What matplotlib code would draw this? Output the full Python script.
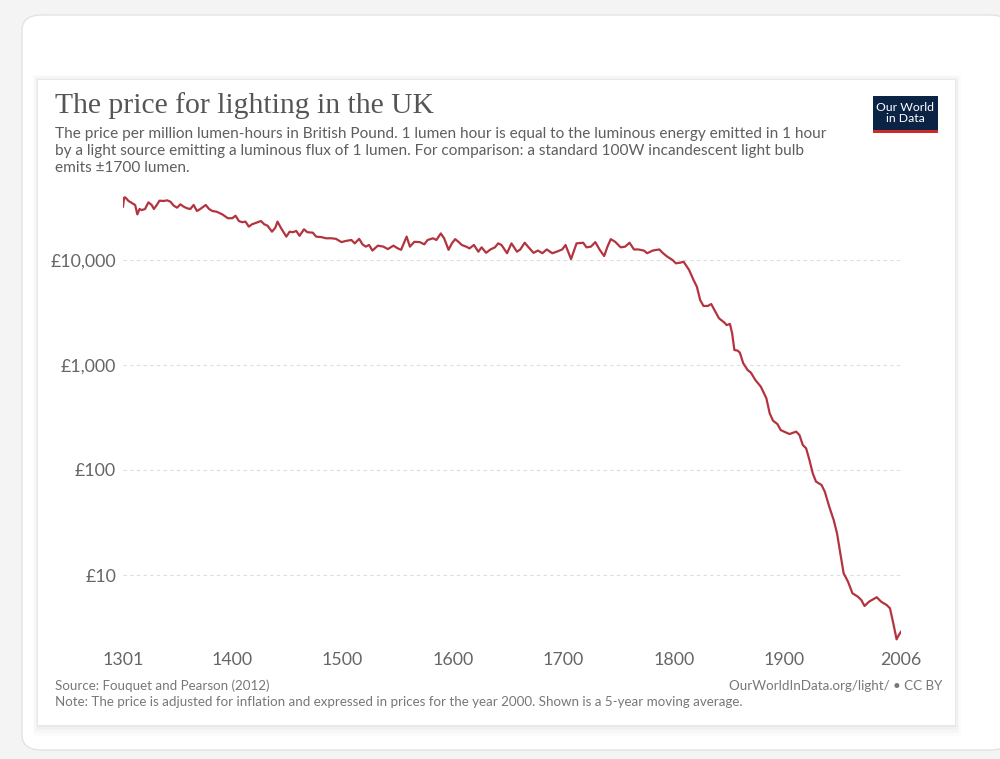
import matplotlib.pyplot as plt
from matplotlib.patches import FancyBboxPatch, Rectangle
from matplotlib.ticker import FixedLocator, NullLocator

# price per million lumen-hours (GBP, 2000 prices)
years = [1301, 1302, 1303, 1306, 1309, 1312, 1314, 1316, 1318, 1321,
         1324, 1327, 1329, 1332, 1334, 1338, 1341, 1344, 1347, 1350,
         1353, 1356, 1359, 1362, 1365, 1368, 1371, 1376, 1379, 1382,
         1386, 1391, 1396, 1400, 1403, 1406, 1409, 1412, 1415, 1418,
         1423, 1426, 1429, 1432, 1436, 1439, 1441, 1444, 1449, 1452,
         1455, 1458, 1461, 1465, 1468, 1473, 1476, 1481, 1485, 1490,
         1494, 1499, 1503, 1508, 1511, 1515, 1518, 1521, 1524, 1527,
         1532, 1537, 1541, 1546, 1550, 1553, 1558, 1561, 1565, 1570,
         1574, 1577, 1582, 1585, 1589, 1592, 1596, 1599, 1602, 1605,
         1608, 1612, 1615, 1619, 1623, 1626, 1630, 1634, 1638, 1641,
         1644, 1649, 1653, 1658, 1661, 1665, 1668, 1673, 1677, 1681,
         1685, 1690, 1694, 1699, 1702, 1707, 1712, 1718, 1721, 1725,
         1729, 1733, 1737, 1740, 1743, 1747, 1752, 1756, 1760, 1764,
         1768, 1773, 1776, 1781, 1787, 1790, 1794, 1799, 1802, 1806,
         1809, 1814, 1818, 1821, 1824, 1827, 1831, 1834, 1837, 1841,
         1846, 1848, 1851, 1853, 1855, 1858, 1860, 1863, 1867, 1870,
         1874, 1879, 1884, 1887, 1890, 1894, 1897, 1900, 1905, 1908,
         1911, 1914, 1917, 1920, 1923, 1926, 1929, 1934, 1937, 1941,
         1945, 1948, 1951, 1954, 1958, 1962, 1967, 1970, 1973, 1977,
         1984, 1988, 1993, 1996, 1999, 2002, 2004, 2006]
price = [32200, 39200, 39500, 36500, 34900, 33400, 27200, 30600, 29900, 30600,
         35400, 33400, 30600, 33900, 36700, 36500, 37000, 35900, 32900, 31500,
         33900, 32200, 31100, 30600, 33400, 29300, 30600, 33400, 30600, 29300,
         28800, 27200, 25000, 25000, 26400, 23500, 22900, 23200, 20800, 21900,
         22900, 23500, 21900, 21200, 18600, 20300, 23200, 20300, 16700, 18600,
         18400, 18900, 17000, 19600, 18400, 18200, 16700, 16500, 16100, 16100,
         15900, 14800, 15200, 15500, 14400, 15900, 14100, 13400, 13900, 12300,
         13700, 13400, 12700, 13700, 12900, 12500, 16700, 13400, 14900, 14800,
         14100, 15500, 16100, 15500, 17900, 16100, 12500, 14400, 15800, 14900,
         13900, 13400, 12900, 13900, 12000, 13200, 11700, 12600, 13200, 14400,
         13900, 11600, 14400, 12000, 12600, 14600, 13400, 11700, 12300, 11600,
         12600, 11600, 12000, 12600, 13900, 10200, 14400, 14600, 13200, 13400,
         14800, 12500, 10900, 13400, 15800, 14900, 13200, 13400, 14600, 12600,
         12600, 12300, 11600, 12300, 12600, 11700, 10800, 10000, 9300, 9430,
         9630, 8030, 6450, 5570, 4160, 3650, 3650, 3810, 3340, 2790,
         2530, 2400, 2460, 2000, 1390, 1370, 1310, 1040, 896, 845,
         720, 621, 482, 347, 295, 274, 240, 232, 220, 226,
         232, 215, 173, 161, 125, 93, 77.5, 72, 62, 44.7,
         33.4, 25, 16.1, 10.4, 8.63, 6.70, 6.21, 5.78, 5.07, 5.57,
         6.14, 5.57, 5.18, 4.82, 3.47, 2.44, 2.68, 2.88]

xticks = [1301, 1400, 1500, 1600, 1700, 1800, 1900, 2006]
yticks = [10, 100, 1000, 10000]
ylabels = ['£10', '£100', '£1,000', '£10,000']

plt.rcParams['font.family'] = ['Lato', 'DejaVu Sans']

W, H = 1000, 759
fig = plt.figure(figsize=(W / 100, H / 100), dpi=100, facecolor='#f4f4f4')

def fx(px):
    return px / W

def fy(py):
    return 1 - py / H

# outer card
fig.patches.append(FancyBboxPatch((fx(22), fy(750)), fx(1010 - 22), (750 - 15) / H,
                                  boxstyle='round,pad=0,rounding_size=0.02',
                                  transform=fig.transFigure, facecolor='white',
                                  edgecolor='#e3e3e3', linewidth=1.0, zorder=0))
# soft shadow under chart panel
for i, a in enumerate([0.035, 0.025, 0.018, 0.012]):
    d = 2 + i * 3
    fig.patches.append(Rectangle((fx(38 - d / 2), fy(725 + d)), fx(955 - 38 + d), (725 - 80 + d * 1.5) / H,
                                 transform=fig.transFigure, facecolor='black', alpha=a,
                                 edgecolor='none', zorder=0.5))
fig.patches.append(Rectangle((fx(38), fy(725)), fx(955 - 38), (725 - 80) / H,
                             transform=fig.transFigure, facecolor='white',
                             edgecolor='none', zorder=1))

# logo
fig.patches.append(Rectangle((fx(873), fy(133)), fx(65), 37 / H, transform=fig.transFigure,
                             facecolor='#0b2446', edgecolor='none', zorder=2))
fig.patches.append(Rectangle((fx(873), fy(133)), fx(65), 3.5 / H, transform=fig.transFigure,
                             facecolor='#cf2a2a', edgecolor='none', zorder=3))
fig.text(fx(905.5), fy(113), 'Our World\nin Data', color='white', fontsize=8.8,
         ha='center', va='center', linespacing=0.95, zorder=4)

# title and subtitle
fig.text(fx(55), fy(92), 'The price for lighting in the UK', fontsize=21.3,
         family=['Liberation Serif', 'DejaVu Serif'], color='#555555', va='top')
fig.text(fx(55), fy(127),
         'The price per million lumen-hours in British Pound. 1 lumen hour is equal to the luminous energy emitted in 1 hour\n'
         'by a light source emitting a luminous flux of 1 lumen. For comparison: a standard 100W incandescent light bulb\n'
         'emits ±1700 lumen.',
         fontsize=11.1, color='#5e5e5e', va='top', linespacing=1.28)

# footer
fig.text(fx(55), fy(686), 'Source: Fouquet and Pearson (2012)', fontsize=9.6,
         color='#777777', va='center')
fig.text(fx(55), fy(702),
         'Note: The price is adjusted for inflation and expressed in prices for the year 2000. '
         'Shown is a 5-year moving average.', fontsize=9.6, color='#777777', va='center')
fig.text(fx(942), fy(686), 'OurWorldInData.org/light/ • CC BY', fontsize=9.6,
         color='#777777', va='center', ha='right')

# chart
top, bottom = 190, 645
ax = fig.add_axes([fx(123), fy(bottom), fx(901 - 123), (bottom - top) / H], zorder=5)
ax.patch.set_alpha(0)
ax.plot(years, price, color='#b3343f', linewidth=1.6, solid_joinstyle='round')
ax.set_yscale('log')
ax.set_xlim(1301, 2006)
lo = 10 ** (4 - (bottom - 260) / 105)
hi = 10 ** (4 + (260 - top) / 105)
ax.set_ylim(lo, hi)
ax.yaxis.set_major_locator(FixedLocator(yticks))
ax.yaxis.set_minor_locator(NullLocator())
ax.set_yticklabels(ylabels)
ax.set_xticks(xticks)
ax.set_xticklabels([str(t) for t in xticks])
ax.grid(axis='y', color='#dddddd', linestyle=(0, (3, 3)), linewidth=0.8)
for s in ax.spines.values():
    s.set_visible(False)
ax.tick_params(axis='both', length=0, labelsize=12.8, labelcolor='#666666')
ax.tick_params(axis='y', pad=5)
ax.tick_params(axis='x', pad=5)

fig.savefig('out.png', dpi=100, facecolor=fig.get_facecolor())
